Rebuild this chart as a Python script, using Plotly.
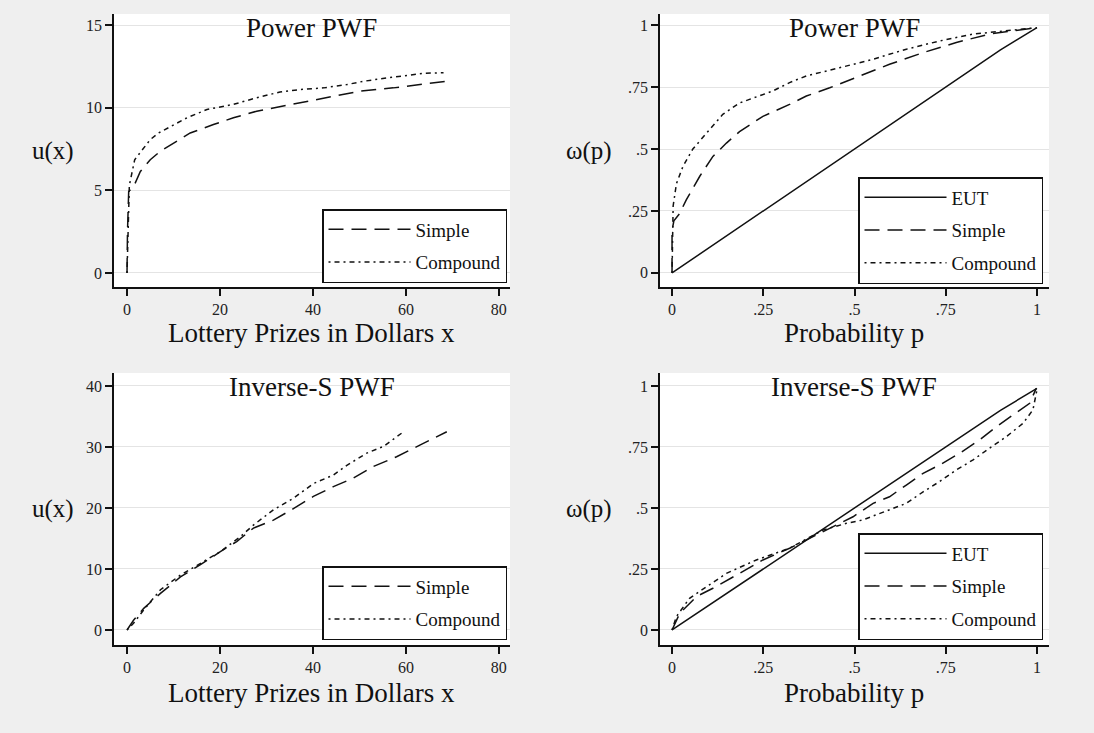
import plotly.graph_objects as go

# ---------------- data ----------------
# Top-left: utility, Power PWF
pw_u_simple_x = [0, 0.1, 0.36, 1.43, 2.87, 5.0, 7.16, 10.0, 13.6, 18.6, 22.9, 27.9, 33.7, 38.7, 44.4, 50.1, 57.3, 63.0, 68.8, 69.8]
pw_u_simple_y = [0, 2.5, 4.93, 5.23, 6.14, 6.85, 7.36, 7.87, 8.47, 8.98, 9.39, 9.79, 10.1, 10.4, 10.7, 11.0, 11.2, 11.4, 11.6, 11.55]
pw_u_comp_x = [0, 0.2, 0.5, 1.65, 5.0, 6.8, 10.0, 12.9, 17.2, 22.9, 27.9, 32.9, 37.2, 42.3, 47.3, 50.9, 55.9, 60.2, 63.8, 68.1]
pw_u_comp_y = [0, 3.0, 5.3, 6.85, 8.07, 8.47, 8.98, 9.39, 9.89, 10.2, 10.6, 10.95, 11.1, 11.2, 11.4, 11.6, 11.8, 11.96, 12.08, 12.12]

# Top-right: probability weighting, Power PWF
pw_w_eut_p = [0, 0.1, 0.2, 0.3, 0.4, 0.5, 0.6, 0.7, 0.8, 0.9, 1.0]
pw_w_eut_w = [0, 0.1, 0.2, 0.3, 0.4, 0.5, 0.6, 0.7, 0.8, 0.9, 0.99]
pw_w_simple_p = [0, 0.0, 0.005, 0.021, 0.039, 0.076, 0.112, 0.149, 0.185, 0.249, 0.322, 0.368, 0.432, 0.505, 0.596, 0.688, 0.779, 0.87, 0.962, 1.0]
pw_w_simple_w = [0, 0.17, 0.21, 0.24, 0.295, 0.39, 0.47, 0.524, 0.57, 0.632, 0.68, 0.714, 0.747, 0.788, 0.842, 0.889, 0.93, 0.964, 0.984, 0.99]
pw_w_comp_p = [0, 0.003, 0.012, 0.03, 0.057, 0.094, 0.139, 0.185, 0.276, 0.322, 0.368, 0.459, 0.55, 0.642, 0.733, 0.825, 0.916, 1.0]
pw_w_comp_w = [0, 0.27, 0.36, 0.43, 0.50, 0.565, 0.64, 0.686, 0.734, 0.768, 0.795, 0.828, 0.862, 0.903, 0.936, 0.964, 0.977, 0.99]

# Bottom-left: utility, Inverse-S PWF
is_u_simple_x = [0, 1.4, 3.6, 7.2, 11.5, 15.8, 20.0, 23.6, 27.2, 31.5, 35.8, 40.1, 44.4, 48.7, 53.0, 58.0, 63.0, 68.8]
is_u_simple_y = [0, 1.6, 3.55, 6.0, 8.7, 10.7, 12.8, 14.5, 16.7, 18.0, 19.9, 21.9, 23.5, 24.9, 26.8, 28.4, 30.3, 32.5]
is_u_comp_x = [0, 1.4, 3.6, 7.2, 11.5, 15.8, 20.0, 24.4, 27.2, 31.5, 35.8, 40.1, 44.4, 47.3, 51.6, 55.2, 59.5]
is_u_comp_y = [0, 1.1, 3.3, 6.6, 9.0, 10.9, 12.8, 15.3, 17.2, 19.7, 21.6, 24.0, 25.4, 27.0, 29.0, 30.1, 32.5]

# Bottom-right: probability weighting, Inverse-S PWF
is_w_eut_p = [0, 0.1, 0.2, 0.3, 0.4, 0.5, 0.6, 0.7, 0.8, 0.9, 1.0]
is_w_eut_w = [0, 0.1, 0.2, 0.3, 0.4, 0.5, 0.6, 0.7, 0.8, 0.9, 0.99]
is_w_simple_p = [0, 0.021, 0.067, 0.112, 0.185, 0.249, 0.322, 0.386, 0.432, 0.496, 0.551, 0.596, 0.642, 0.688, 0.733, 0.788, 0.843, 0.889, 0.934, 0.98, 0.998]
is_w_simple_w = [0, 0.068, 0.137, 0.171, 0.232, 0.287, 0.335, 0.383, 0.417, 0.464, 0.519, 0.546, 0.594, 0.642, 0.676, 0.724, 0.779, 0.833, 0.881, 0.929, 0.99]
is_w_comp_p = [0, 0.012, 0.048, 0.094, 0.149, 0.231, 0.322, 0.414, 0.478, 0.523, 0.596, 0.642, 0.688, 0.733, 0.779, 0.825, 0.87, 0.916, 0.962, 0.989, 1.0]
is_w_comp_w = [0, 0.055, 0.13, 0.178, 0.232, 0.287, 0.335, 0.41, 0.437, 0.451, 0.492, 0.519, 0.566, 0.608, 0.656, 0.697, 0.745, 0.792, 0.847, 0.902, 0.984]

x_money_ticks = [0, 20, 40, 60, 80]
prob_ticks = [0, 0.25, 0.5, 0.75, 1]
prob_ticktext = ["0", ".25", ".5", ".75", "1"]
u_top_ticks = [0, 5, 10, 15]
u_bot_ticks = [0, 10, 20, 30, 40]

panel_titles = ["Power PWF", "Power PWF", "Inverse-S PWF", "Inverse-S PWF"]
x_titles = ["Lottery Prizes in Dollars x", "Probability p", "Lottery Prizes in Dollars x", "Probability p"]
y_titles = ["u(x)", "ω(p)", "u(x)", "ω(p)"]

# ---------------- style ----------------
W, H = 1094, 733
SERIF = "Liberation Serif"
BLACK = "#111111"
DASH_SIMPLE = "15px,8px"
DASH_COMP = "2px,4px,5px,4px"
LW = 1.5

def px_x(v):
    return v / W

def px_y(v):
    return 1 - v / H

xdom_l = [px_x(114), px_x(510)]
xdom_r = [px_x(660), px_x(1049)]
ydom_t = [px_y(287), px_y(14)]
ydom_b = [px_y(645), px_y(373)]

fig = go.Figure()

def add_line(x, y, name, dash, xa, ya, legend, group):
    fig.add_trace(go.Scatter(
        x=x, y=y, mode="lines", name=name,
        line=dict(color=BLACK, width=LW, dash=dash),
        xaxis=xa, yaxis=ya, legend=legend, legendgroup=group,
        hoverinfo="skip",
    ))

add_line(pw_u_simple_x, pw_u_simple_y, "Simple", DASH_SIMPLE, "x", "y", "legend", "a1")
add_line(pw_u_comp_x, pw_u_comp_y, "Compound", DASH_COMP, "x", "y", "legend", "a2")

add_line(pw_w_eut_p, pw_w_eut_w, "EUT", "solid", "x2", "y2", "legend2", "b0")
add_line(pw_w_simple_p, pw_w_simple_w, "Simple", DASH_SIMPLE, "x2", "y2", "legend2", "b1")
add_line(pw_w_comp_p, pw_w_comp_w, "Compound", DASH_COMP, "x2", "y2", "legend2", "b2")

add_line(is_u_simple_x, is_u_simple_y, "Simple", DASH_SIMPLE, "x3", "y3", "legend3", "c1")
add_line(is_u_comp_x, is_u_comp_y, "Compound", DASH_COMP, "x3", "y3", "legend3", "c2")

add_line(is_w_eut_p, is_w_eut_w, "EUT", "solid", "x4", "y4", "legend4", "d0")
add_line(is_w_simple_p, is_w_simple_w, "Simple", DASH_SIMPLE, "x4", "y4", "legend4", "d1")
add_line(is_w_comp_p, is_w_comp_w, "Compound", DASH_COMP, "x4", "y4", "legend4", "d2")

tick_font = dict(family=SERIF, size=16, color="#222222")

def xaxis(dom, rng, tv, tt, anchor):
    return dict(domain=dom, range=rng, tickvals=tv, ticktext=tt, anchor=anchor,
                showline=True, linecolor=BLACK, linewidth=1.5, ticks="outside",
                ticklen=7, tickcolor=BLACK, tickwidth=1.5, showgrid=False,
                zeroline=False, tickfont=tick_font, fixedrange=True)

def yaxis(dom, rng, tv, tt, anchor):
    return dict(domain=dom, range=rng, tickvals=tv, ticktext=tt, anchor=anchor,
                showline=True, linecolor=BLACK, linewidth=1.5, ticks="outside",
                ticklen=7, tickcolor=BLACK, tickwidth=1.5, showgrid=True,
                gridcolor="#e4e4e4", gridwidth=1, zeroline=False,
                tickfont=tick_font, fixedrange=True)

money_tt = [str(v) for v in x_money_ticks]

legend_common = dict(
    bgcolor="white", bordercolor=BLACK, borderwidth=1.5,
    font=dict(family=SERIF, size=19, color="#111111"),
    xanchor="right", yanchor="top", itemwidth=82, tracegroupgap=5,
    traceorder="grouped",
)

fig.update_layout(
    width=W, height=H, autosize=False,
    margin=dict(l=0, r=0, t=0, b=0),
    paper_bgcolor="#efefef", plot_bgcolor="white",
    showlegend=True,
    xaxis=xaxis(xdom_l, [-2.8, 82.4], x_money_ticks, money_tt, "y"),
    yaxis=yaxis(ydom_t, [-0.85, 15.67], u_top_ticks, [str(v) for v in u_top_ticks], "x"),
    xaxis2=xaxis(xdom_r, [-0.033, 1.033], prob_ticks, prob_ticktext, "y2"),
    yaxis2=yaxis(ydom_t, [-0.057, 1.045], prob_ticks, prob_ticktext, "x2"),
    xaxis3=xaxis(xdom_l, [-2.8, 82.4], x_money_ticks, money_tt, "y3"),
    yaxis3=yaxis(ydom_b, [-2.46, 42.13], u_bot_ticks, [str(v) for v in u_bot_ticks], "x3"),
    xaxis4=xaxis(xdom_r, [-0.033, 1.033], prob_ticks, prob_ticktext, "y4"),
    yaxis4=yaxis(ydom_b, [-0.0615, 1.053], prob_ticks, prob_ticktext, "x4"),
    legend=dict(legend_common, x=px_x(507), y=px_y(209)),
    legend2=dict(legend_common, x=px_x(1043), y=px_y(177)),
    legend3=dict(legend_common, x=px_x(507), y=px_y(566)),
    legend4=dict(legend_common, x=px_x(1043), y=px_y(533)),
)

big_font = dict(family=SERIF, size=27, color="#111111")
y_font = dict(family=SERIF, size=25, color="#111111")
# panel centers
x_centers = [312, 854, 312, 854]
title_y = [28, 28, 387, 387]
xt_y = [333, 333, 693, 693]
yt_x = [53, 589, 53, 589]
yt_y = [151, 151, 509, 509]
for i in range(4):
    fig.add_annotation(text=panel_titles[i], x=px_x(x_centers[i]), y=px_y(title_y[i]),
                       xref="paper", yref="paper", showarrow=False,
                       xanchor="center", yanchor="middle", font=big_font)
    fig.add_annotation(text=x_titles[i], x=px_x(x_centers[i]), y=px_y(xt_y[i]),
                       xref="paper", yref="paper", showarrow=False,
                       xanchor="center", yanchor="middle", font=big_font)
    fig.add_annotation(text=y_titles[i], x=px_x(yt_x[i]), y=px_y(yt_y[i]),
                       xref="paper", yref="paper", showarrow=False,
                       xanchor="center", yanchor="middle", font=y_font)

fig.write_html("out.html", config={"displayModeBar": False},
               post_script="document.body.style.margin='0';document.body.style.overflow='hidden';")
